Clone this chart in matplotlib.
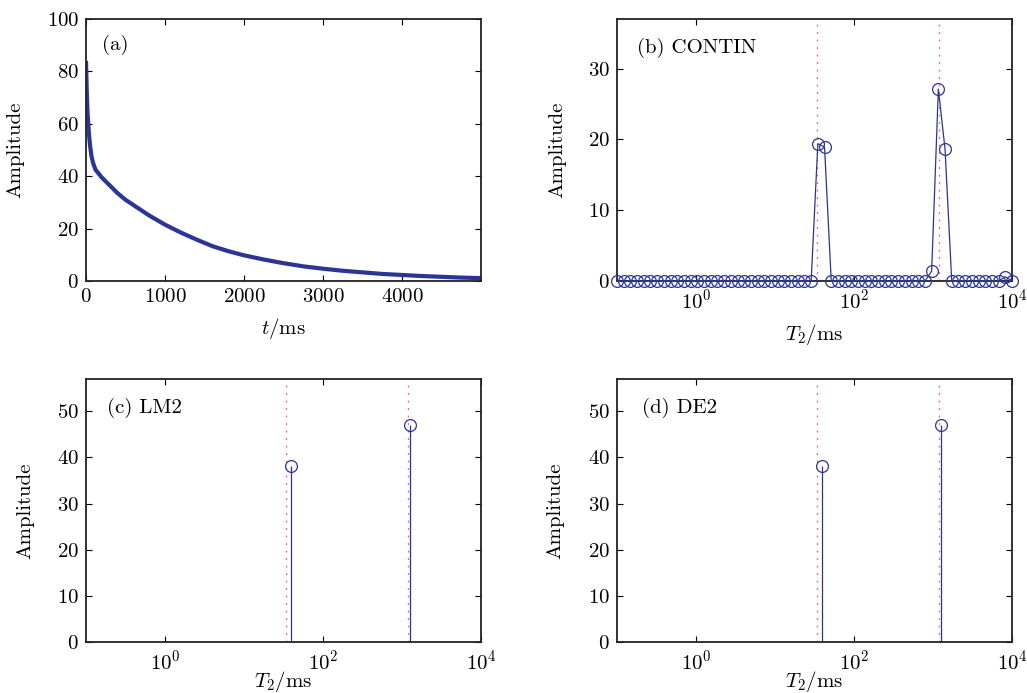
import numpy as np
import matplotlib
matplotlib.use("Agg")
import matplotlib.pyplot as plt
from matplotlib.ticker import FixedLocator, LogFormatterSciNotation, NullLocator

plt.rcParams.update({
    "font.family": "serif",
    "font.serif": ["cmr10", "DejaVu Serif"],
    "mathtext.fontset": "cm",
    "axes.formatter.use_mathtext": True,
    "font.size": 15,
})

# (a) measured echo train
t_ms = [0, 10, 20, 35, 50, 70, 90, 120, 160, 200, 300, 400, 500, 600, 800,
        1000, 1200, 1400, 1600, 1800, 2000, 2250, 2500, 2750, 3000, 3250,
        3500, 3750, 4000, 4250, 4500, 4750, 5000]
echo_amp = [84, 72, 64, 57, 52, 47.5, 45, 42.5, 41, 39.5, 36.5, 33.5, 31,
            29, 25, 21.5, 18.5, 15.8, 13.3, 11.4, 9.8, 8.2, 6.8, 5.6, 4.7,
            3.9, 3.3, 2.7, 2.3, 1.9, 1.6, 1.3, 1.1]

# (b) CONTIN spectrum on a 60-point log grid from 0.1 ms to 10 s
t2_grid = np.logspace(-1, 4, 60)
contin_amp = ([0.0] * 30 + [19.4, 18.9] + [0.0] * 15 + [1.4, 27.1, 18.6]
              + [0.0] * 8 + [0.6, 0.0])

# reference relaxation times (dotted lines)
t2_true = [34, 1200]

# (c) LM2 and (d) DE2 two-component fits
lm2_t2 = [39.0, 1260.0]
lm2_amp = [38.2, 47.0]
de2_t2 = [39.4, 1270.0]
de2_amp = [38.2, 47.0]

BLUE = "#2c3595"
RED = "#ff5a6e"

W, H = 1027, 693
fig = plt.figure(figsize=(W / 100, H / 100), dpi=100)


def add_ax(left, right, top, bottom):
    return fig.add_axes([left / W, 1 - bottom / H, (right - left) / W,
                         (bottom - top) / H])


def style(ax):
    ax.tick_params(direction="in", top=True, right=True, length=4.5,
                   width=0.8, pad=5, labelsize=15)
    for s in ax.spines.values():
        s.set_linewidth(1.3)
        s.set_color("#222222")


def log_axis(ax, pad):
    ax.set_xscale("log")
    ax.set_xlim(0.1, 1e4)
    ax.xaxis.set_major_locator(FixedLocator([1, 100, 1e4]))
    ax.xaxis.set_major_formatter(LogFormatterSciNotation())
    ax.xaxis.set_minor_locator(NullLocator())
    ax.set_xlabel(r"$T_2/\mathrm{ms}$", labelpad=pad)


def true_lines(ax, top):
    for v in t2_true:
        ax.plot([v, v], [0, top], color=RED, lw=0.9,
                linestyle=(0, (1.5, 4.5)), zorder=1)


# (a)
axa = add_ax(86, 481, 19, 281)
axa.plot(t_ms, echo_amp, color=BLUE, lw=3.0, solid_capstyle="butt")
axa.set_xlim(0, 5000)
axa.set_ylim(0, 100)
axa.set_xticks([0, 1000, 2000, 3000, 4000])
axa.set_yticks([0, 20, 40, 60, 80, 100])
axa.set_xlabel(r"$t/\mathrm{ms}$", labelpad=7)
axa.set_ylabel("Amplitude")
axa.yaxis.set_label_coords(-0.155, 0.5)
axa.text(0.04, 0.90, "(a)", transform=axa.transAxes, va="center")
style(axa)

# (b)
axb = add_ax(617, 1012, 19, 281)
true_lines(axb, 37)
axb.plot(t2_grid, contin_amp, color=BLUE, lw=0.9, marker="o", ms=8.5,
         mfc="none", mec=BLUE, mew=0.9, clip_on=False, zorder=3)
log_axis(axb, 7)
axb.set_ylim(0, 37)
axb.set_yticks([0, 10, 20, 30])
axb.set_ylabel("Amplitude")
axb.yaxis.set_label_coords(-0.128, 0.5)
axb.text(0.05, 0.89, "(b) CONTIN", transform=axb.transAxes, va="center")
style(axb)

# (c) and (d)
for bounds, t2, amp, tag, lx, lab_x in [
        ((86, 481, 379, 642), lm2_t2, lm2_amp, "(c) LM2", 0.053, -0.131),
        ((617, 1012, 379, 642), de2_t2, de2_amp, "(d) DE2", 0.063, -0.133)]:
    ax = add_ax(*bounds)
    true_lines(ax, 57)
    ax.vlines(t2, 0, amp, color=BLUE, lw=0.9, zorder=2)
    ax.plot(t2, amp, linestyle="none", marker="o", ms=8.5, mfc="none",
            mec=BLUE, mew=0.9, zorder=3)
    log_axis(ax, -3)
    ax.set_ylim(0, 57)
    ax.set_yticks([0, 10, 20, 30, 40, 50])
    ax.set_ylabel("Amplitude")
    ax.yaxis.set_label_coords(lab_x, 0.5)
    ax.text(lx, 0.89, tag, transform=ax.transAxes, va="center")
    style(ax)

fig.savefig("out.png", dpi=100)
